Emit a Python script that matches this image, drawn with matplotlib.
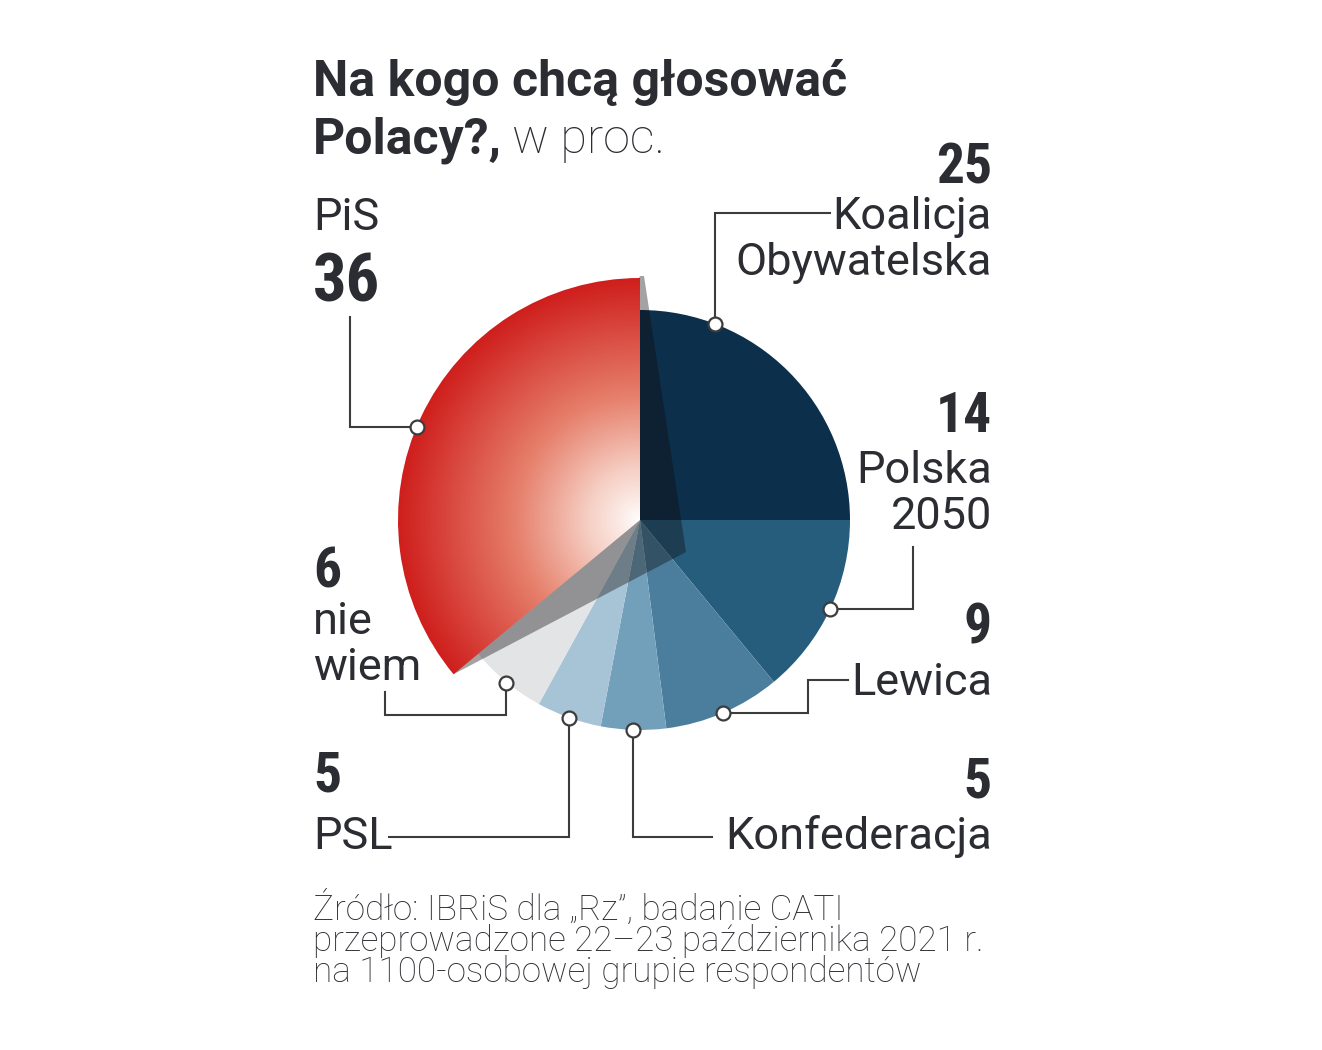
import numpy as np
import matplotlib
matplotlib.use("Agg")
import matplotlib.pyplot as plt
from matplotlib import font_manager as fm
from matplotlib.patches import Polygon
from matplotlib.colors import LinearSegmentedColormap

# ---------------- data ----------------
parties = ["Koalicja Obywatelska", "Polska 2050", "Lewica", "Konfederacja", "PSL", "nie wiem", "PiS"]
values = [25, 14, 9, 5, 5, 6, 36]
colors = ["#0c2f4b", "#265d7d", "#4a7e9c", "#72a0bb", "#a7c4d6", "#e2e4e6", "#d0201e"]
title_bold = ["Na kogo chcą głosować", "Polacy?,"]
title_light = "w proc."
source_lines = ["Źródło: IBRiS dla „Rz”, badanie CATI",
                "przeprowadzone 22–23 października 2021 r.",
                "na 1100-osobowej grupie respondentów"]

# ---------------- fonts ----------------
avail = {f.name for f in fm.fontManager.ttflist}
def pick(*names):
    for n in names:
        if n in avail:
            return n
    return "DejaVu Sans"
F_REG = pick("Roboto", "Open Sans", "Noto Sans", "DejaVu Sans")
F_COND = pick("Roboto Condensed", "Liberation Sans Narrow", "Roboto", "DejaVu Sans")
TXT = "#2b2d32"
LINE = "#3c3c3c"

W, H = 1322, 1050
def Y(y):
    return H - y

fig = plt.figure(figsize=(W / 100, H / 100), dpi=100)
ax = fig.add_axes([0, 0, 1, 1])

CX, CY = 640, Y(520)
R, R_PIS = 210, 242

wedges, _ = ax.pie(values, colors=colors, startangle=90, counterclock=False,
                   radius=R, center=(CX, CY), wedgeprops=dict(linewidth=0))
ax.set_xlim(0, W)
ax.set_ylim(0, H)
ax.set_aspect("equal")
ax.axis("off")

# slice angles (clockwise from top)
starts, ends = [], []
acc = 0
for v in values:
    s = 90 - 360 * acc / sum(values)
    e = s - 360 * v / sum(values)
    starts.append(s); ends.append(e)
    acc += v

# PiS wedge: larger radius, radial gradient
pis = wedges[6]
pis.set_radius(R_PIS)
pis.set_facecolor("none")
pis.set_zorder(3)
grad = LinearSegmentedColormap.from_list(
    "pisgrad", [(0.0, "#ffffff"), (0.25, "#f6cfc4"), (0.55, "#e6806c"), (1.0, "#cf1f1d")])
n = 700
xs = np.linspace(CX - R_PIS, CX + R_PIS, n)
ys = np.linspace(CY - R_PIS, CY + R_PIS, n)
XX, YY = np.meshgrid(xs, ys)
t = np.clip(np.hypot(XX - CX, YY - CY) / R_PIS, 0, 1) ** 0.9
im = ax.imshow(t, cmap=grad, vmin=0, vmax=1,
               extent=[CX - R_PIS, CX + R_PIS, CY - R_PIS, CY + R_PIS],
               origin="lower", zorder=3, interpolation="bilinear")
im.set_clip_path(pis)

# shadow polygon
tip_a = np.deg2rad(starts[6])
tip = (CX + R_PIS * np.cos(tip_a), CY + R_PIS * np.sin(tip_a))
shadow = Polygon([(CX, CY + R_PIS + 2), (CX + 4, CY + R_PIS + 2),
                  (CX + 46, CY - 32), tip],
                 closed=True, facecolor="#100c0c", alpha=0.38, edgecolor="none", zorder=2)
ax.add_patch(shadow)

# markers on slices
fracs = [0.233, 0.5, 0.5, 0.5, 0.5, 0.5, 0.48]
radii = [R, R, R, R, R, R + 1, R_PIS]
pts = []
for s, e, f, r in zip(starts, ends, fracs, radii):
    a = np.deg2rad(s + f * (e - s))
    pts.append((CX + r * np.cos(a), CY + r * np.sin(a)))

def leader(path):
    xs_, ys_ = zip(*path)
    ax.plot(xs_, ys_, color=LINE, lw=1.5, zorder=4, solid_joinstyle="miter")

(kx, ky), (px, py), (lx, ly), (cx_, cy_), (sx, sy), (nx, ny), (bx, by) = pts
leader([(kx, ky), (kx, Y(213)), (830, Y(213))])
leader([(px, py), (913, py), (913, Y(547))])
leader([(lx, ly), (808, ly), (808, Y(680)), (848, Y(680))])
leader([(cx_, cy_), (cx_, Y(837)), (712, Y(837))])
leader([(sx, sy), (sx, Y(837)), (389, Y(837))])
leader([(nx, ny), (nx, Y(715)), (385, Y(715)), (385, Y(692))])
leader([(bx, by), (350, by), (350, Y(317))])
for (mx, my) in pts:
    ax.plot(mx, my, "o", ms=10, mfc="white", mec=LINE, mew=1.6, zorder=5)

# ---------------- texts ----------------
ax.text(313, Y(96), title_bold[0], fontsize=36, fontweight="bold", family=F_REG,
        color=TXT, va="baseline", ha="left")
t2 = ax.text(313, Y(153), title_bold[1], fontsize=36, fontweight="bold", family=F_REG,
             color=TXT, va="baseline", ha="left")
ax.annotate(title_light, xy=(1.0, Y(153)), xycoords=(t2, "data"),
            xytext=(7, 0), textcoords="offset points",
            fontsize=35, fontweight="light", family=F_REG, color=TXT,
            va="baseline", ha="left")

LAB = 32.5
NUM = 40
def num(x, y, s, ha, size=NUM):
    ax.text(x, Y(y), s, fontsize=size, fontweight="bold", family=F_COND,
            color=TXT, va="baseline", ha=ha)
def lab(x, y, s, ha):
    ax.text(x, Y(y), s, fontsize=LAB, family=F_REG, color=TXT, va="baseline", ha=ha)

# right column
num(992, 183, str(values[0]), "right")
lab(992, 229, "Koalicja", "right")
lab(992, 275, "Obywatelska", "right")
num(992, 432, str(values[1]), "right")
lab(992, 483, "Polska", "right")
lab(992, 529, "2050", "right")
num(992, 644, str(values[2]), "right")
lab(992, 695, parties[2], "right")
num(992, 797, str(values[3]), "right")
lab(992, 849, parties[3], "right")

# left column
lab(313, 230, parties[6], "left")
num(313, 302, str(values[6]), "left", size=48)
num(313, 588, str(values[5]), "left")
lab(313, 634, "nie", "left")
lab(313, 680, "wiem", "left")
num(313, 792, str(values[4]), "left")
lab(313, 849, parties[4], "left")

for i, line in enumerate(source_lines):
    ax.text(313, Y(920 + 31 * i), line, fontsize=25.3, fontweight="light", family=F_REG,
            color=TXT, va="baseline", ha="left")

fig.savefig("out.png", dpi=100, facecolor="white")
